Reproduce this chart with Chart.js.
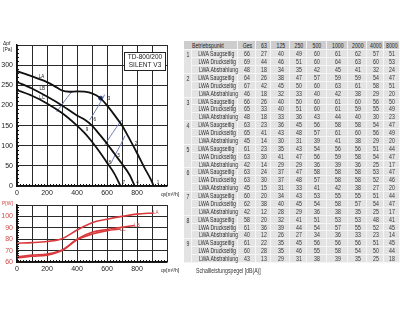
<!DOCTYPE html>
<html><head><meta charset="utf-8">
<script src="https://cdn.jsdelivr.net/npm/chart.js@4.4.1/dist/chart.umd.min.js"></script>
<style>
html,body{margin:0;padding:0;background:#fff;width:400px;height:320px;overflow:hidden;font-family:"Liberation Sans",Arial,sans-serif;}
#c1{position:absolute;left:0;top:30px;}
#c2{position:absolute;left:0;top:195px;}
#tbl{position:absolute;left:184px;top:41px;border-collapse:separate;border-spacing:0;table-layout:fixed;width:216px;font-family:"Liberation Sans",Arial,sans-serif;font-size:7px;color:#333;}
#tbl td,#tbl th{padding:0;text-align:center;height:7.875px;line-height:7.875px;background:#e3e3e3;font-weight:normal;white-space:nowrap;overflow:visible;box-shadow:inset -1px -1px 0 #f6f6f6;}
#tbl th{height:9.3px;line-height:9.3px;background:#cdcdcd;color:#222;}
#tbl td.num{vertical-align:top;line-height:10px;}
#tbl span{display:inline-block;transform:scaleX(0.74);transform-origin:center;}
#tbl th.bp span{transform-origin:left center;}
#note{position:absolute;left:196px;top:267px;font-family:"Liberation Sans",Arial,sans-serif;font-size:7px;color:#333;transform:scaleX(0.74);transform-origin:left center;white-space:nowrap;}
</style></head>
<body>
<canvas id="c1" width="197" height="175"></canvas>
<canvas id="c2" width="197" height="85"></canvas>
<table id="tbl"></table>
<div id="note">Schallleistungspegel [dB(A)]</div>
<script>
// ---- pressure curves (Δpf [Pa] vs qv [m³/h])
const laQ = [0,100,200,250,300,350,400,450,500,550,600,650,700,750,800,850,900,910];
const laP = [285,272,258,248,237,234,235,234,230,220,200,176,150,117,82,45,10,0];
const lbQ = [0,100,200,300,400,450,500,550,600,650,700,750,785];
const lbP = [258,242,222,200,175,165,150,128,105,80,55,28,0];
const lcQ = [0,100,200,300,400,450,500,550,600,650,690];
const lcP = [238,224,205,181,150,132,110,85,58,30,0];
// blue sound iso-lines (approx.)
const blue1Q = [265,300,335,365], blue1P = [184,202,220,234];
const blue2Q = [485,520,555,585], blue2P = [164,185,207,227];
const blue3Q = [585,620,660,698], blue3P = [102,122,144,164];
const blue4Q = [625,655,690,720], blue4P = [55,78,102,125];
// operating point marker
const dotQ = [558], dotP = [218];
// ---- power curves (P [W])
const pLaQ = [0,100,200,300,400,500,600,700,800,910];
const pLaP = [76.5,77,78,80.5,88,94.5,97.5,100,102,103];
const pLbQ = [0,100,200,300,400,500,600,700,785];
const pLbP = [64.5,66,67,70.5,80,86,88.5,90.5,92];
const pLcQ = [0,100,200,300,400,500,600,690];
const pLcP = [63.5,65,66,70,79.5,84.5,87.5,89];
const qTickLabels = [0,200,400,600,800];
// ---- labels
const curveLabels = [['LA',163,270],['LB',169,241],['LC',167,218]];
const pointLabels = [['1',940,8],['4',803,8],['7',711,8],['3',613,216],['2',793,104],['5',678,74],['8',618,57],['6',518,164],['9',467,139]];
const powerLabels = [['LA',925,103],['LB',800,92],['LC',705,88.5]];
// ---- table
const bands = ['Ges','63','125','250','500','1000','2000','4000','8000'];
const sources = ['LWA Saugseitig','LWA Druckseitig','LWA Abstrahlung'];
const lwaSaug = [[66,27,40,49,60,61,62,57,51],[64,26,38,47,57,59,59,54,47],[66,26,40,50,60,61,60,56,50],[63,23,36,45,56,58,58,54,47],[61,23,35,43,54,56,56,51,44],[63,24,37,47,58,58,58,53,47],[60,20,34,43,53,55,55,51,44],[58,20,32,41,51,53,53,48,41],[61,22,35,45,56,56,56,51,45]];
const lwaDruck = [[69,44,46,51,60,64,63,60,53],[67,42,45,50,60,63,61,58,51],[65,33,40,51,60,61,59,55,49],[65,41,43,48,57,61,60,56,49],[63,30,41,47,56,59,58,54,47],[63,30,37,48,57,58,58,52,46],[62,38,40,45,54,58,57,54,47],[61,36,39,44,54,57,55,52,45],[60,28,35,46,55,58,54,50,44]];
const lwaAbstr = [[48,18,34,35,42,45,41,32,24],[46,18,32,33,40,42,38,29,20],[48,18,33,36,43,44,40,30,23],[45,14,30,31,39,41,38,29,20],[42,14,29,29,36,39,36,25,17],[45,15,31,33,41,42,38,27,20],[42,12,28,29,36,38,35,25,17],[40,12,26,27,34,36,33,23,14],[43,13,29,31,38,39,35,25,18]];

// build table
(function(){
  const t = document.getElementById('tbl');
  const widths = [8,46,18,15,19,17,20,21,19,17,16];
  const sp = s=>'<span>'+s+'</span>';
  let cg = '<colgroup>' + widths.map(w=>'<col style="width:'+w+'px">').join('') + '</colgroup>';
  let h = '<tr><th class="bp" colspan="2" style="text-align:left;padding-left:8px">'+sp('Betriebspunkt')+'</th>' + bands.map(b=>'<th>'+sp(b)+'</th>').join('') + '</tr>';
  const all = [lwaSaug,lwaDruck,lwaAbstr];
  let body = '';
  for(let g=0; g<9; g++){
    for(let s=0; s<3; s++){
      body += '<tr>' + (s===0 ? '<td class="num" rowspan="3">'+sp(g+1)+'</td>' : '') + '<td>'+sp(sources[s])+'</td>' + all[s][g].map(v=>'<td>'+sp(v)+'</td>').join('') + '</tr>';
    }
  }
  t.innerHTML = cg + h + body;
})();

const pts = (q,p)=>q.map((x,i)=>({x:x,y:p[i]}));
const FONT = 'Liberation Sans';

function minorTicks(chart, xStep, yStep){
  const ctx = chart.ctx, xs = chart.scales.x, ys = chart.scales.y, a = chart.chartArea;
  ctx.save(); ctx.strokeStyle = '#111'; ctx.lineWidth = 1;
  ctx.beginPath();
  for(let v=ys.min; v<=ys.max; v+=yStep){ const y=Math.round(ys.getPixelForValue(v))+0.5; ctx.moveTo(a.left,y); ctx.lineTo(a.left+2,y); }
  for(let v=xs.min; v<=xs.max; v+=xStep){ const x=Math.round(xs.getPixelForValue(v))+0.5; ctx.moveTo(x,a.bottom); ctx.lineTo(x,a.bottom-2); }
  ctx.stroke(); ctx.restore();
}

const upperAnnot = {
  id:'upperAnnot',
  afterDatasetsDraw(chart){
    const ctx = chart.ctx, xs = chart.scales.x, ys = chart.scales.y, a = chart.chartArea;
    minorTicks(chart, 20, 10);
    ctx.save();
    ctx.fillStyle = '#222'; ctx.font = '4.5px '+FONT; ctx.textAlign='center'; ctx.textBaseline='middle';
    curveLabels.forEach(l=>ctx.fillText(l[0], xs.getPixelForValue(l[1]), ys.getPixelForValue(l[2])));
    pointLabels.forEach(l=>ctx.fillText(l[0], xs.getPixelForValue(l[1]), ys.getPixelForValue(l[2])));
    ctx.font = '5px '+FONT; ctx.textAlign='left';
    ctx.fillText('Δpf', 3, 14); ctx.fillText('[Pa]', 3, 19.5);
    ctx.fillText('qv[m³/h]', 161, a.bottom + 9);
    const bx = a.right - 43, by = 22, bw = 42, bh = 19;
    ctx.fillStyle = '#fff'; ctx.fillRect(bx,by,bw,bh);
    ctx.strokeStyle = '#222'; ctx.lineWidth = 1; ctx.strokeRect(bx+0.5,by+0.5,bw-1,bh-1);
    ctx.fillStyle = '#222'; ctx.font = '6.5px '+FONT; ctx.textAlign='center';
    ctx.fillText('TD-800/200', bx+bw/2, by+5.5); ctx.fillText('SILENT V3', bx+bw/2, by+13.5);
    ctx.restore();
  }
};
const lowerAnnot = {
  id:'lowerAnnot',
  afterDatasetsDraw(chart){
    const ctx = chart.ctx, xs = chart.scales.x, ys = chart.scales.y, a = chart.chartArea;
    minorTicks(chart, 20, 2);
    ctx.save();
    ctx.fillStyle = '#d04848'; ctx.font = '4.5px '+FONT; ctx.textAlign='center'; ctx.textBaseline='middle';
    powerLabels.forEach(l=>ctx.fillText(l[0], xs.getPixelForValue(l[1]), ys.getPixelForValue(l[2])));
    ctx.font = '5px '+FONT; ctx.textAlign='left';
    ctx.fillText('P[W]', 2, 9);
    ctx.fillStyle = '#222';
    ctx.fillText('qv[m³/h]', 161, a.bottom + 9);
    ctx.restore();
  }
};

const blackLine = (q,p)=>({data:pts(q,p), showLine:true, borderColor:'#111', borderWidth:1.8, pointRadius:0, cubicInterpolationMode:'monotone'});
const blueLine = (q,p)=>({data:pts(q,p), showLine:true, borderColor:'#6d7fb8', borderWidth:1, pointRadius:0, tension:0.3});
const redLine = (q,p)=>({data:pts(q,p), showLine:true, borderColor:'#d9393c', borderWidth:1.6, pointRadius:0, cubicInterpolationMode:'monotone'});

function axes(yMin,yMax,yStep,yColor,xH,yW,hideTop){
  return {
    x:{type:'linear',min:0,max:1000,
       ticks:{stepSize:100,autoSkip:false,maxRotation:0,color:'#222',padding:3,font:{size:7,family:FONT},
              callback:v=>qTickLabels.includes(v)?String(v):''},
       grid:{color:'#2a2a2a',lineWidth:1,drawTicks:false},
       border:{color:'#111',width:1.5},
       afterFit:s=>{s.height=xH;}},
    y:{type:'linear',min:yMin,max:yMax,
       ticks:{stepSize:yStep,color:yColor,padding:4,font:{size:7,family:FONT},
              callback:v=>(hideTop && v===yMax)?'':String(v)},
       grid:{color:'#2a2a2a',lineWidth:1,drawTicks:false},
       border:{color:'#111',width:1.5},
       afterFit:s=>{s.width=yW;}}
  };
}

new Chart(document.getElementById('c1'),{
  type:'scatter',
  data:{datasets:[
    blackLine(laQ,laP), blackLine(lbQ,lbP), blackLine(lcQ,lcP),
    blueLine(blue1Q,blue1P), blueLine(blue2Q,blue2P), blueLine(blue3Q,blue3P), blueLine(blue4Q,blue4P),
    {data:pts(dotQ,dotP), pointRadius:2, backgroundColor:'#2f3f8f', borderColor:'#2f3f8f'}
  ]},
  options:{responsive:false,animation:false,
    layout:{padding:{top:15,right:30,left:0,bottom:0}},
    plugins:{legend:{display:false},tooltip:{enabled:false}},
    scales:axes(0,350,50,'#222',19,17,true)},
  plugins:[upperAnnot]
});

new Chart(document.getElementById('c2'),{
  type:'scatter',
  data:{datasets:[redLine(pLaQ,pLaP), redLine(pLbQ,pLbP), redLine(pLcQ,pLcP)]},
  options:{responsive:false,animation:false,
    layout:{padding:{top:10,right:30,left:0,bottom:0}},
    plugins:{legend:{display:false},tooltip:{enabled:false}},
    scales:axes(60,110,10,'#d04848',18,17,true)},
  plugins:[lowerAnnot]
});
</script>
</body></html>
